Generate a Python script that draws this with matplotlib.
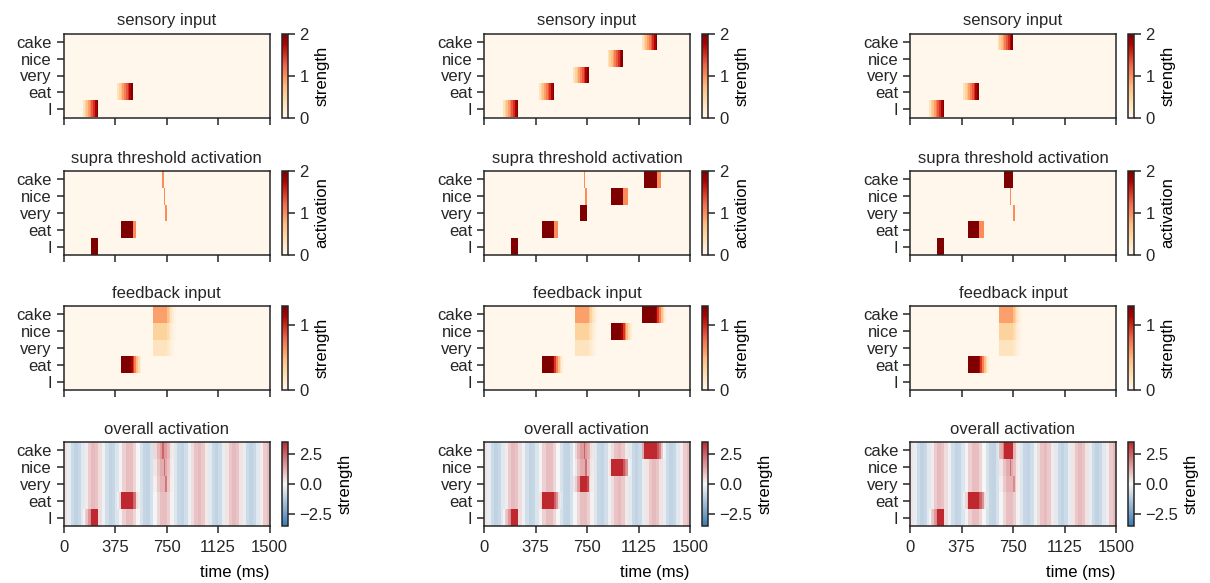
import numpy as np
import matplotlib

matplotlib.use("Agg")
import matplotlib.pyplot as plt
from matplotlib.colors import LinearSegmentedColormap

WORDS = ["I", "eat", "very", "nice", "cake"]
TIME_TICKS = [0, 375, 750, 1125, 1500]
DT = 12.5  # ms per bin
N_BINS = 120

# oscillating background of the overall activation, one value every 25 ms
BACKGROUND = [
    0.34, -0.26, -0.77, -1.0, -0.86, -0.40, 0.20, 0.73, 0.99, 0.89,
    0.46, -0.14, -0.69, -0.98, -0.91, -0.51, 0.08, 0.64, 0.97, 0.94,
    0.56, -0.02, -0.59, -0.95, -0.96, -0.61, -0.04, 0.54, 0.93, 0.97,
    0.66, 0.10, -0.49, -0.90, -0.98, -0.70, -0.17, 0.44, 0.87, 0.99,
    0.75, 0.23, -0.38, -0.84, -1.0, -0.79, -0.29, 0.32, 0.81, 1.0,
    0.83, 0.35, -0.25, -0.77, -1.0, -0.86, -0.41, 0.19, 0.72, 0.99,
]

# shapes of the inputs, one value per bin
SENSORY_RAMP = [0.3, 0.5, 0.7, 0.9, 1.1, 1.3, 1.5, 1.75, 2.0]
FB_WORD = [1.3, 1.3, 1.3, 1.3, 1.3, 1.3, 1.15, 0.95, 0.7, 0.45, 0.25, 0.1]
FB_WORD_LONG = [1.3, 1.3, 1.3, 1.3, 1.3, 1.3, 1.3, 1.3, 1.15, 0.95, 0.7, 0.45, 0.25, 0.1]
FB_PRED_CAKE = [0.58, 0.58, 0.58, 0.58, 0.58, 0.58, 0.58, 0.58, 0.45, 0.33, 0.2, 0.1, 0.04]
FB_PRED_NICE = [0.33, 0.33, 0.33, 0.33, 0.33, 0.33, 0.33, 0.33, 0.26, 0.19, 0.12, 0.06, 0.02]
FB_PRED_VERY = [0.2, 0.2, 0.2, 0.2, 0.2, 0.2, 0.2, 0.2, 0.16, 0.12, 0.08, 0.04, 0.01]

# sensory input: (word row, onset ms)
SENSORY = [
    [(0, 140), (1, 390)],
    [(0, 140), (1, 395), (2, 655), (3, 900), (4, 1150)],
    [(0, 140), (1, 390), (4, 640)],
]

# supra threshold activation: (word row, start ms, end ms, value)
SUPRA = [
    [(0, 200, 250, 2.0), (1, 413, 500, 2.0), (1, 500, 530, 1.0),
     (4, 712, 725, 1.0), (3, 725, 740, 1.0), (2, 737, 752, 1.0)],
    [(0, 202, 255, 2.0), (1, 425, 510, 2.0), (1, 510, 538, 1.0),
     (2, 700, 750, 2.0), (4, 720, 732, 1.0), (3, 733, 750, 1.0),
     (3, 925, 1010, 2.0), (3, 1010, 1050, 1.0),
     (4, 1165, 1265, 2.0), (4, 1265, 1292, 1.0)],
    [(0, 200, 255, 2.0), (1, 420, 505, 2.0), (1, 505, 538, 1.0),
     (4, 687, 748, 2.0), (3, 730, 742, 1.0), (2, 745, 757, 1.0)],
]

# feedback input: (word row, onset ms, profile)
FEEDBACK = [
    [(1, 417, FB_WORD), (4, 650, FB_PRED_CAKE), (3, 650, FB_PRED_NICE), (2, 650, FB_PRED_VERY)],
    [(1, 421, FB_WORD), (4, 660, FB_PRED_CAKE), (3, 660, FB_PRED_NICE), (2, 660, FB_PRED_VERY),
     (3, 920, FB_WORD), (4, 1152, FB_WORD_LONG)],
    [(1, 420, FB_WORD), (4, 655, FB_PRED_CAKE), (3, 655, FB_PRED_NICE), (2, 655, FB_PRED_VERY)],
]

ROW_TITLES = ["sensory input", "supra threshold activation", "feedback input", "overall activation"]
CBAR_LABELS = ["strength", "activation", "strength", "strength"]
VLIMS = [(0, 2), (0, 2), (0, 1.3), (-3.5, 3.5)]
CBAR_TICKS = [[0, 1, 2], [0, 1, 2], [0, 1], [-2.5, 0.0, 2.5]]


def add_profile(grid, row, onset, profile):
    i0 = int(round(onset / DT))
    for k, v in enumerate(profile):
        if i0 + k < N_BINS:
            grid[row, i0 + k] += v


def build_panels(col):
    sensory = np.zeros((len(WORDS), N_BINS))
    for row, onset in SENSORY[col]:
        add_profile(sensory, row, onset, SENSORY_RAMP)

    supra = np.zeros((len(WORDS), N_BINS))
    for row, t0, t1, val in SUPRA[col]:
        i0, i1 = int(round(t0 / DT)), int(round(t1 / DT))
        supra[row, i0:max(i1, i0 + 1)] = val

    feedback = np.zeros((len(WORDS), N_BINS))
    for row, onset, prof in FEEDBACK[col]:
        add_profile(feedback, row, onset, prof)

    bg = np.repeat(np.array(BACKGROUND), 2)[None, :]
    overall = bg + sensory + feedback + supra
    return [sensory, supra, feedback, overall]


div_cmap = LinearSegmentedColormap.from_list("div", ["#3b7bb4", "#f7f7f7", "#c0282f"])
CMAPS = ["OrRd", "OrRd", "OrRd", div_cmap]

plt.rcParams["font.family"] = ["Liberation Sans", "DejaVu Sans"]
plt.rcParams["font.size"] = 12
plt.rcParams["text.color"] = "#262626"
plt.rcParams["axes.edgecolor"] = "#262626"
plt.rcParams["axes.linewidth"] = 1.1
plt.rcParams["xtick.color"] = "#262626"
plt.rcParams["ytick.color"] = "#262626"
plt.rcParams["xtick.labelcolor"] = "#262626"
plt.rcParams["ytick.labelcolor"] = "#262626"
plt.rcParams["xtick.major.size"] = 5
plt.rcParams["ytick.major.size"] = 5
plt.rcParams["xtick.major.width"] = 1.1
plt.rcParams["ytick.major.width"] = 1.1
plt.rcParams["xtick.major.pad"] = 5

W, H = 1210, 583
fig = plt.figure(figsize=(W / 100, H / 100), dpi=100)

ax_left = [63.5, 484, 910]
cb_left = [282, 702, 1128]
row_top = [33.5, 171, 306, 442]
ax_w, ax_h = 206, 84
cb_w = 5.5

for col in range(3):
    panels = build_panels(col)
    for r in range(4):
        ax = fig.add_axes([ax_left[col] / W, (H - row_top[r] - ax_h) / H, ax_w / W, ax_h / H])
        cax = fig.add_axes([cb_left[col] / W, (H - row_top[r] - ax_h) / H, cb_w / W, ax_h / H])
        vmin, vmax = VLIMS[r]
        im = ax.imshow(panels[r], aspect="auto", origin="lower", cmap=CMAPS[r],
                       vmin=vmin, vmax=vmax, extent=(0, 1500, -0.5, 4.5),
                       interpolation="nearest")
        ax.set_title(ROW_TITLES[r], fontsize=12, pad=6)
        ax.set_yticks(range(len(WORDS)))
        ax.set_yticklabels(WORDS)
        ax.set_xticks(TIME_TICKS)
        if r == 3:
            ax.set_xticklabels([str(t) for t in TIME_TICKS])
            ax.set_xlabel("time (ms)", loc="right", labelpad=7)
        else:
            ax.set_xticklabels([])
        cb = fig.colorbar(im, cax=cax, ticks=CBAR_TICKS[r])
        if r == 3:
            cb.ax.set_yticklabels(["\u22122.5", "0.0", "2.5"])
        cb.set_label(CBAR_LABELS[r])
        cb.outline.set_linewidth(1.1)

fig.savefig("out.png", dpi=100)
